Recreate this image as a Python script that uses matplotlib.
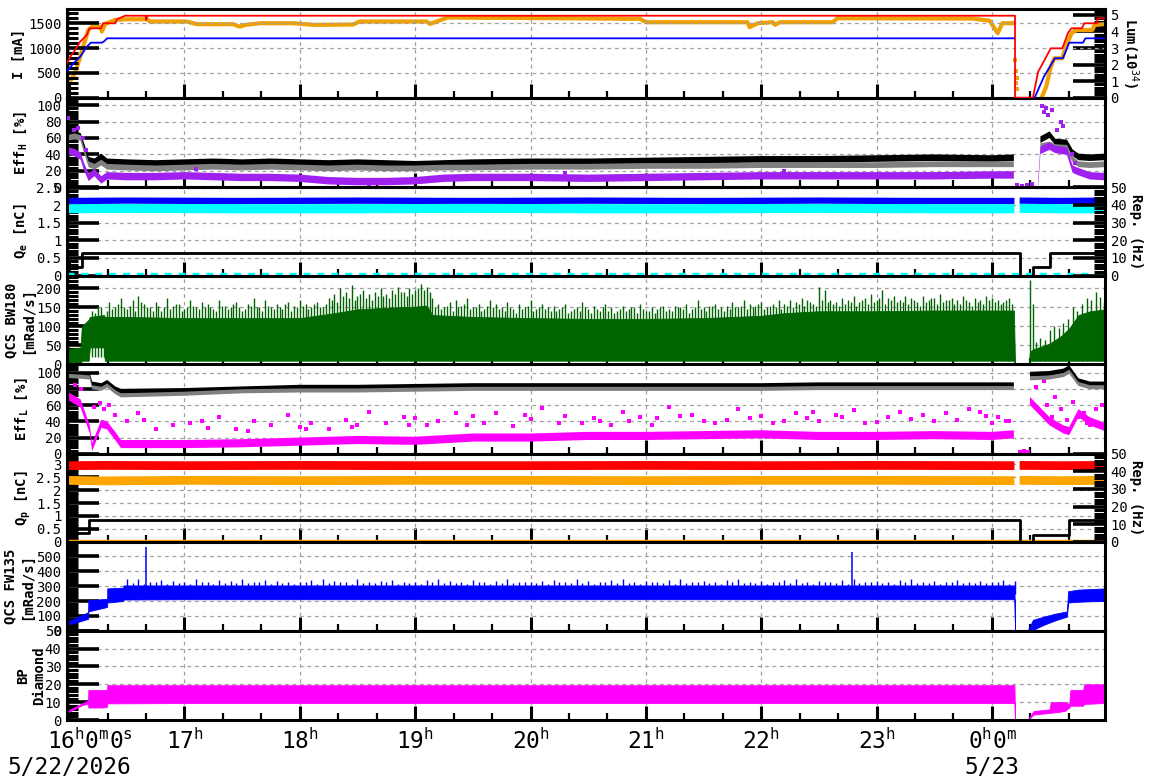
import numpy as np
import matplotlib
matplotlib.use("Agg")
import matplotlib.pyplot as plt
from matplotlib.ticker import MultipleLocator, AutoMinorLocator, FormatStrFormatter
import matplotlib.transforms as mtransforms

plt.rcParams['font.family'] = ['DejaVu Sans Mono']
plt.rcParams['mathtext.fontset'] = 'custom'
plt.rcParams['mathtext.rm'] = 'DejaVu Sans Mono'
plt.rcParams['mathtext.it'] = 'DejaVu Sans Mono'
plt.rcParams['mathtext.bf'] = 'DejaVu Sans Mono:bold'

NaN = np.nan
# time axis: hours after 16:00 on 5/22/2026
hour_ticks = [0, 1, 2, 3, 4, 5, 6, 7, 8]
hour_labels = ["16$^{h}$0$^{m}$0$^{s}$", "17$^{h}$", "18$^{h}$", "19$^{h}$", "20$^{h}$",
               "21$^{h}$", "22$^{h}$", "23$^{h}$", "0$^{h}$0$^{m}$"]
date_labels = ["5/22/2026", "5/23"]
date_pos = [0, 8]

# ---- Panel 1: beam currents [mA] and luminosity [1e34]
red_t = [-0.02, 0.01, 0.053, 0.096, 0.154, 0.177, 0.276, 0.295, 0.40, 0.414, 0.486, 0.664, 0.668, 0.677,
         8.20, 8.20, 8.355, 8.40, 8.51, 8.61, 8.66, 8.69, 8.78, 8.80, 8.91, 8.915, 8.98]
red_v = [693, 826, 962, 1129, 1264, 1399, 1399, 1500, 1500, 1580, 1653, 1653, 1566, 1653,
         1653, 0, 0, 520, 995, 995, 1310, 1400, 1400, 1500, 1500, 1600, 1600]
blue_t = [-0.02, 0.038, 0.096, 0.154, 0.189, 0.27, 0.284, 0.30, 0.33, 8.19, 8.20,
          8.37, 8.45, 8.545, 8.615, 8.67, 8.79, 8.81, 8.98]
blue_v = [524, 693, 826, 1028, 1109, 1109, 1109, 1129, 1197, 1197, NaN,
          0, 420, 795, 795, 1109, 1109, 1197, 1197]
lum_t = [-0.02, 0.01, 0.053, 0.096, 0.14, 0.166, 0.2, 0.27, 0.284, 0.313, 0.4, 0.5, 0.677, 0.70,
         1.02, 1.11, 1.42, 1.48, 1.53, 1.66, 1.94, 2.12, 2.46, 2.52, 3.10, 3.13, 3.28, 4.26,
         4.95, 5.0, 5.88, 5.9, 5.97, 6.1, 6.12, 6.16, 6.62, 6.66, 7.83, 7.98, 8.05, 8.09, 8.18,
         8.20, 8.43, 8.47, 8.51, 8.54, 8.61, 8.64, 8.69, 8.73, 8.87, 8.89, 8.98]
lum_v = [0.87, 1.0, 1.49, 2.48, 3.49, 4.09, 4.29, 4.29, 4.0, 4.46, 4.7, 4.74, 4.74, 4.6,
         4.6, 4.44, 4.44, 4.29, 4.4, 4.5, 4.5, 4.4, 4.42, 4.6, 4.6, 4.46, 4.84, 4.8,
         4.76, 4.56, 4.56, 4.26, 4.5, 4.56, 4.4, 4.56, 4.56, 4.8, 4.78, 4.65, 3.9, 4.5, 4.5,
         NaN, 0.0, 0.66, 1.87, 2.38, 2.38, 3.08, 3.89, 4.09, 4.09, 4.39, 4.45]
lum_dot_t = [8.20, 8.205, 8.21, 8.215, 8.22]
lum_dot_v = [2.3, 1.6, 0.9, 1.2, 0.5]

# ---- Panel 2: EffH [%] (band centres)
effh_t = [-0.02, 0.05, 0.10, 0.13, 0.17, 0.22, 0.28, 0.33, 0.5, 0.75, 1.0, 1.25, 1.5, 1.75, 2.0,
          2.25, 2.5, 2.75, 3.0, 3.25, 3.5, 4.0, 4.5, 5.0, 5.5, 6.0, 6.5, 7.0, 7.5, 8.0, 8.19,
          8.2, 8.40, 8.42, 8.5, 8.55, 8.65, 8.7, 8.75, 8.85, 8.98]
effh_black = [62, 64, 62, 50, 33, 31, 37, 31, 30, 29, 30, 31, 30, 31, 30,
              29, 30, 29, 28, 29, 30, 31, 31, 32, 33, 34, 34, 35, 36, 35, 36,
              NaN, NaN, 58, 64, 55, 54, 42, 37, 36, 37]
effh_gray = [60, 62, 60, 45, 28, 25, 30, 25, 24, 23, 24, 25, 24, 25, 24,
             23, 24, 23, 23, 24, 24, 25, 25, 26, 26, 27, 27, 27, 28, 28, 28,
             NaN, NaN, 50, 52, 49, 48, 34, 28, 27, 28]
effh_purple = [45, 42, 38, 25, 12, 18, 9, 14, 13, 13, 14, 13, 12, 12, 11,
               8, 7, 7, 8, 11, 12, 12, 11, 12, 13, 14, 14, 14, 14, 15, 15,
               NaN, 3, 45, 50, 46, 44, 22, 19, 14, 13]
effh_out_t = [-0.01, 0.04, 0.08, 0.12, 0.15, 1.1, 2.6, 4.3, 6.2, 8.22, 8.26, 8.3, 8.35, 8.43,
              8.45, 8.47, 8.49, 8.52, 8.56, 8.6, 8.62, 8.69, 8.72]
effh_out_v = [84, 70, 72, 60, 45, 22, 3, 18, 20, 3, 2, 3, 4, 99,
              92, 96, 88, 94, 70, 80, 75, 40, 30]

# ---- Panel 3: Qe [nC] and electron rep. rate [Hz]
qe_t = [-0.02, 0.5, 1.5, 2.5, 3.5, 4.5, 5.5, 6.5, 7.5, 8.195, 8.20, 8.24, 8.6, 8.98]
qe_blue = [2.12, 2.13, 2.12, 2.13, 2.12, 2.13, 2.12, 2.13, 2.12, 2.12, NaN, 2.13, 2.12, 2.13]
qe_cyan = [1.90, 1.91, 1.90, 1.90, 1.91, 1.90, 1.90, 1.91, 1.90, 1.90, NaN, 1.91, 1.90, 1.90]
qe_rep_t = [-0.02, 0.11, 8.24, 8.36, 8.50, 8.98]
qe_rep_v = [5, 12.5, 0, 5, 12.5, 12.5]

# ---- Panel 4: QCS BW180 [mRad/s]
bw_t = [-0.02, 0.10, 0.11, 0.17, 0.18, 0.30, 0.31, 0.5, 1.0, 1.5, 2.0, 2.3, 2.5, 2.8, 3.0, 3.1,
        3.15, 3.5, 4.0, 4.5, 5.0, 5.5, 6.0, 6.2, 6.5, 7.0, 7.5, 8.0, 8.19, 8.20, 8.32, 8.33,
        8.36, 8.5, 8.6, 8.67, 8.75, 8.85, 8.98]
bw_top = [40, 45, 100, 118, 125, 130, 125, 125, 122, 122, 122, 135, 145, 150, 152, 155,
          130, 125, 122, 120, 120, 122, 128, 135, 140, 140, 142, 142, 142, 0, 0, 35,
          40, 55, 75, 95, 130, 140, 145]
bw_low = [0, 0, 10, 10, 45, 45, 10, 10, 10, 10, 10, 10, 10, 10, 10, 10,
          10, 10, 10, 10, 10, 10, 10, 10, 10, 10, 10, 10, 10, 0, 0, 10,
          10, 10, 10, 10, 10, 10, 10]
bw_spk_v = [140, 155, 130, 165, 150, 175, 145, 170, 180, 160,
            150, 165, 140, 175, 155, 160, 145, 170, 150, 165,
            160, 145, 170, 155, 150, 165, 140, 160, 175, 150,
            170, 150, 160, 145, 165, 155, 170, 160, 150, 165,
            150, 175, 185, 200, 190, 210, 180, 195, 185, 190,
            200, 185, 195, 205, 190, 200, 195, 212, 205, 175,
            160, 150, 165, 170, 155, 175, 150, 160, 145, 170,
            160, 150, 165, 145, 160, 150, 170, 145, 160, 150,
            155, 145, 160, 140, 150, 165, 145, 155, 140, 160,
            150, 140, 155, 145, 150, 160, 140, 150, 145, 155,
            145, 155, 150, 160, 145, 170, 150, 155, 160, 150,
            155, 165, 150, 170, 160, 155, 165, 150, 160, 170,
            160, 170, 165, 175, 170, 160, 205, 195, 170, 165,
            175, 170, 180, 165, 175, 185, 170, 195, 175, 180,
            170, 180, 175, 165, 180, 170, 175, 185, 170, 175,
            170, 180, 165, 175, 170, 180, 175, 170, 165, 175]
bw_spk_t = 0.20 + 0.05 * np.arange(len(bw_spk_v))
bw_spk2_v = [135, 150, 140, 145, 160, 150, 155, 140, 165, 150,
             140, 155, 150, 145, 160, 140, 150, 155, 145, 150,
             150, 140, 155, 145, 160, 150, 145, 155, 150, 140,
             155, 145, 150, 160, 140, 150, 155, 145, 160, 150,
             160, 170, 165, 180, 175, 170, 185, 175, 170, 180,
             180, 175, 185, 190, 180, 185, 200, 195, 190, 150,
             145, 155, 140, 150, 160, 145, 150, 140, 155, 150,
             145, 140, 150, 135, 145, 155, 140, 150, 145, 140,
             140, 150, 135, 145, 140, 150, 135, 145, 150, 140,
             135, 145, 140, 150, 135, 145, 140, 135, 150, 140,
             140, 150, 145, 135, 150, 145, 140, 155, 145, 140,
             145, 150, 155, 145, 150, 160, 145, 155, 150, 145,
             155, 150, 160, 155, 165, 155, 170, 165, 160, 155,
             160, 165, 155, 170, 160, 165, 175, 160, 170, 165,
             165, 160, 170, 155, 165, 175, 160, 165, 170, 160,
             160, 170, 155, 165, 160, 170, 165, 160, 170, 160]
bw_spk2_t = 0.225 + 0.05 * np.arange(len(bw_spk2_v))
bw_post_t = [8.33, 8.36, 8.38, 8.42, 8.46, 8.50, 8.54, 8.58, 8.62, 8.66, 8.70, 8.74, 8.78, 8.82,
             8.86, 8.90, 8.94, 8.97]
bw_post_v = [222, 160, 60, 70, 65, 90, 100, 95, 110, 120, 150, 140, 160, 174, 170, 191, 178, 165]

# ---- Panel 5: EffL [%]
effl_t = [-0.02, 0.1, 0.18, 0.2, 0.28, 0.33, 0.4, 0.45, 1.0, 1.5, 2.0, 2.5, 3.0, 3.5, 4.0, 4.5,
          5.0, 5.5, 6.0, 6.5, 7.0, 7.5, 8.0, 8.19, 8.2, 8.33, 8.5, 8.62, 8.67, 8.75, 8.85, 8.98]
effl_black = [98, 97, 96, 86, 84, 88, 80, 77, 78, 80, 82, 82, 83, 84, 84, 84,
              84, 84, 84, 85, 85, 85, 85, 85, NaN, 98, 99, 102, 106, 90, 86, 86]
effl_gray = [96, 95, 94, 82, 80, 84, 76, 72, 74, 77, 78, 78, 79, 80, 80, 80,
             80, 80, 80, 81, 81, 81, 81, 81, NaN, 93, 94, 97, 101, 86, 82, 82]
effl_mag = [72, 62, 30, 8, 37, 35, 22, 12, 12, 13, 15, 17, 16, 20, 20, 22,
            22, 23, 24, 22, 22, 23, 22, 24, NaN, 65, 40, 30, 28, 50, 40, 33]
effl_out_t = [0.05, 0.1, 0.3, 0.35, 0.4, 0.5, 0.6, 0.75, 0.9, 1.05, 1.2, 1.3, 1.45, 1.6, 1.75,
              1.9, 2.0, 2.1, 2.25, 2.4, 2.5, 2.6, 2.75, 2.9, 3.0, 3.1, 3.2, 3.35, 3.5, 3.6,
              3.7, 3.85, 4.0, 4.1, 4.3, 4.45, 4.6, 4.7, 4.8, 4.95, 5.1, 5.2, 5.4, 5.5, 5.7,
              5.8, 6.0, 6.1, 6.3, 6.4, 6.5, 6.65, 6.8, 6.9, 7.1, 7.2, 7.4, 7.5, 7.7, 7.8,
              7.9, 8.0, 8.05, 8.12, 8.45, 8.48, 8.55, 8.6, 8.7, 8.75, 8.8, 8.85, 8.9, 8.95,
              0.22, 0.27, 0.65, 1.15, 1.55, 2.05, 2.45, 2.95, 3.45, 3.95, 4.25, 4.55, 4.85,
              5.05, 5.3, 5.6, 5.9, 6.2, 6.45, 6.7, 7.0, 7.3, 7.6, 7.95, 8.15, 8.38, 8.42,
              8.52, 8.65, 8.82, 8.24, 8.28, 8.31]
effl_out_v = [85, 80, 55, 60, 48, 40, 50, 30, 35, 38, 32, 45, 30, 40, 36,
              48, 33, 38, 30, 42, 35, 52, 38, 45, 44, 36, 40, 50, 46, 38,
              50, 34, 43, 56, 47, 38, 41, 36, 52, 45, 44, 58, 48, 40, 42,
              55, 46, 38, 50, 44, 40, 48, 54, 38, 45, 52, 48, 40, 42, 55,
              51, 38, 45, 40, 90, 60, 70, 55, 64, 45, 50, 35, 55, 60,
              58, 62, 42, 40, 28, 31, 33, 35, 36, 48, 38, 44, 40,
              36, 46, 38, 44, 41, 52, 45, 39, 43, 50, 46, 41, 82, 94,
              45, 42, 38, 2, 3, 2]

# ---- Panel 6: Qp [nC] and positron rep. rate [Hz]
qp_t = [-0.02, 0.3, 1.0, 2.0, 3.0, 4.0, 5.0, 6.0, 7.0, 8.195, 8.20, 8.24, 8.6, 8.98]
qp_red = [2.95, 2.96, 2.95, 2.96, 2.95, 2.95, 2.96, 2.95, 2.96, 2.95, NaN, 2.96, 2.95, 2.96]
qp_orange = [2.38, 2.36, 2.38, 2.37, 2.38, 2.38, 2.37, 2.38, 2.38, 2.37, NaN, 2.38, 2.37, 2.38]
qp_rep_t = [-0.02, 0.174, 8.24, 8.36, 8.67, 8.98]
qp_rep_v = [5, 12.5, 0, 4, 12.5, 12.5]

# ---- Panel 7: QCS FW135 [mRad/s]
fw_t = [-0.02, 0.08, 0.165, 0.167, 0.33, 0.331, 0.47, 0.471, 1.0, 2.0, 3.0, 4.0, 5.0, 6.0,
        7.0, 8.0, 8.195, 8.20, 8.31, 8.355, 8.45, 8.55, 8.65, 8.66, 8.75, 8.85, 8.98]
fw_lo = [40, 60, 80, 130, 160, 190, 200, 210, 212, 212, 212, 212, 212, 212,
         212, 212, 212, 0, 0, 5, 40, 70, 95, 190, 195, 198, 200]
fw_hi = [60, 95, 125, 205, 215, 285, 290, 305, 305, 305, 305, 305, 305, 305,
         305, 305, 305, 0, 0, 73, 95, 115, 130, 266, 277, 280, 285]
fw_spk_v = [345, 320, 350, 315, 330, 325, 340, 318, 335, 322,
            330, 315, 345, 325, 330, 318, 340, 322, 335, 320,
            345, 320, 330, 325, 340, 318, 335, 322, 330, 315,
            330, 325, 340, 318, 345, 320, 335, 325, 330, 318,
            345, 322, 330, 320, 335, 325, 340, 318, 330, 322,
            330, 318, 340, 325, 345, 320, 335, 322, 330, 315,
            340, 325, 330, 318, 335, 320, 345, 322, 330, 325,
            330, 320, 335, 318, 340, 325, 330, 322, 345, 320,
            335, 318, 330, 325, 340, 320, 345, 322, 330, 318,
            335, 325, 330, 320, 340, 318, 345, 322, 330, 325,
            335, 320, 330, 318, 340, 325, 345, 322, 330, 320,
            335, 318, 330, 325, 340, 320, 345, 322, 330, 318,
            335, 325, 330, 320, 340, 318, 345, 322, 330, 325,
            335, 320, 330, 318, 340, 325, 345, 322, 330, 320,
            335, 318, 330, 325, 340, 320, 330, 322, 335, 320,
            330, 325, 340, 318, 335]
fw_spk_t = 0.5 + 0.05 * np.arange(len(fw_spk_v))
fw_big_t = [0.668, 6.79]
fw_big_v = [564, 530]

# ---- Panel 8: BP Diamond
bp_t = [-0.02, 0.12, 0.165, 0.167, 0.30, 0.33, 0.331, 1.0, 2.0, 3.0, 4.0, 5.0, 6.0, 7.0, 8.0,
        8.195, 8.20, 8.31, 8.36, 8.50, 8.51, 8.63, 8.67, 8.68, 8.79, 8.80, 8.98]
bp_lo = [4, 8.5, 9, 7, 7, 7.5, 9.3, 9.5, 9.5, 9.5, 9.5, 9.5, 9.5, 9.5, 9.5,
         9.5, 0, 0, 3, 4, 4, 5, 7, 8, 8, 9, 9.5]
bp_hi = [5, 9.5, 11, 16.8, 16.8, 17, 19.5, 19.5, 19.5, 19.5, 19.5, 19.5, 19.5, 19.5, 19.5,
         19.5, 0, 0, 5, 6, 10, 10, 9, 16.8, 16.8, 20, 20]

# ================= figure =================
W, H = 1172, 782
fig = plt.figure(figsize=(W / 100, H / 100), dpi=100)
edges = [9.3, 97.7, 187.3, 275.5, 364.5, 453.8, 541.8, 630.7, 720.0]
L, R = 67, 1105
axes = []
for i in range(8):
    top, bot = edges[i], edges[i + 1]
    ax = fig.add_axes([L / W, 1 - bot / H, (R - L) / W, (bot - top) / H])
    axes.append(ax)

GRID = dict(color='#a0a0a0', linestyle=(0, (3, 3)), linewidth=0.9)
FS = 10


def style(ax, ylim, major, nminor, show_x=False):
    ax.set_xlim(-0.018, 8.98)
    ax.set_ylim(*ylim)
    ax.yaxis.set_major_locator(MultipleLocator(major))
    ax.yaxis.set_minor_locator(AutoMinorLocator(nminor))
    ax.yaxis.set_major_formatter(FormatStrFormatter('%g'))
    ax.xaxis.set_major_locator(MultipleLocator(1))
    ax.xaxis.set_minor_locator(MultipleLocator(1 / 3))
    ax.tick_params(axis='y', which='major', direction='in', length=23, width=2.6,
                   labelsize=FS, pad=4, right=False)
    ax.tick_params(axis='y', which='minor', direction='in', length=8, width=2.2, right=False)
    ax.tick_params(axis='x', which='major', direction='in', length=10, width=2.2, top=False,
                   labelbottom=show_x)
    ax.tick_params(axis='x', which='minor', direction='in', length=5, width=1.6, top=False)
    for s in ax.spines.values():
        s.set_linewidth(2.2)
    ax.grid(True, which='major', **GRID)
    ax.set_axisbelow(True)


def twin_style(ax2, ylim, major, nminor, label, xc):
    ax2.set_ylim(*ylim)
    ax2.yaxis.set_major_locator(MultipleLocator(major))
    ax2.yaxis.set_minor_locator(AutoMinorLocator(nminor))
    ax2.yaxis.set_major_formatter(FormatStrFormatter('%g'))
    ax2.tick_params(axis='y', which='major', direction='in', length=23, width=2.6,
                    labelsize=FS, pad=4)
    ax2.tick_params(axis='y', which='minor', direction='in', length=8, width=2.2)
    ax2.set_ylabel(label, rotation=270, fontsize=FS, fontweight='bold', va='center')
    ax2.yaxis.set_label_coords((xc - L) / (R - L), 0.5)


def band(ax, t, c, half, color, z=2):
    c = np.array(c, dtype=float)
    ax.fill_between(t, c - half, c + half, color=color, lw=0, zorder=z)


def ylab(ax, text, xc):
    ax.set_ylabel(text, fontsize=FS, fontweight='bold', va='center', linespacing=1.25)
    ax.yaxis.set_label_coords((xc - L) / (R - L), 0.5)


# Panel 1
ax = axes[0]
style(ax, (0, 1782), 500, 5)
ax.plot(red_t, red_v, color='#ff0000', lw=1.3, zorder=4)
ax.plot(blue_t, blue_v, color='#0000ff', lw=1.3, zorder=4)
ax2 = ax.twinx()
twin_style(ax2, (0, 5.34), 1, 5, 'Lum(10$^{34}$)', 1130)
ax2.plot(lum_t, lum_v, color='#f0a000', lw=3.0, zorder=3)
ax2.scatter(lum_dot_t, lum_dot_v, s=6, color='#f0a000', marker='s', lw=0, zorder=3)
ax.set_zorder(ax2.get_zorder() + 1)
ax.patch.set_visible(False)
ylab(ax, 'I [mA]', 19)

# Panel 2
ax = axes[1]
style(ax, (0, 109), 20, 5)
band(ax, effh_t, effh_black, 4, '#000000')
band(ax, effh_t, effh_gray, 3.5, '#808080')
band(ax, effh_t, effh_purple, 4.5, '#a020f0')
ax.scatter(effh_out_t, effh_out_v, s=6, color='#a020f0', marker='s', lw=0, zorder=3)
ylab(ax, 'Eff$_\\mathbf{H}$ [%]', 21)

# Panel 3
ax = axes[2]
style(ax, (0, 2.51), 0.5, 5)
band(ax, qe_t, qe_blue, 0.09, '#0000ff')
band(ax, qe_t, qe_cyan, 0.13, '#00ffff')
ax.plot([-0.02, 8.98], [0.04, 0.04], color='#00ffff', lw=2.5, ls=(0, (2, 2)), zorder=2)
ax2 = ax.twinx()
twin_style(ax2, (0, 50), 10, 5, 'Rep. (Hz)', 1136)
ax2.step(qe_rep_t, qe_rep_v, where='post', color='black', lw=2.0)
ylab(ax, 'Q$_\\mathbf{e}$ [nC]', 21)

# Panel 4
ax = axes[3]
style(ax, (0, 234), 50, 5)
ax.fill_between(bw_t, bw_low, bw_top, color='#006400', lw=0.6, edgecolor='#006400')
ax.vlines(bw_spk_t, 20, bw_spk_v, color='#006400', lw=1.0)
ax.vlines(bw_spk2_t, 20, bw_spk2_v, color='#006400', lw=1.0)
ax.vlines(bw_post_t, 10, bw_post_v, color='#006400', lw=1.0)
ylab(ax, 'QCS BW180\n[mRad/s]', 20)

# Panel 5
ax = axes[4]
style(ax, (0, 110), 20, 5)
band(ax, effl_t, effl_black, 3, '#000000')
band(ax, effl_t, effl_gray, 2.5, '#808080')
band(ax, effl_t, effl_mag, 5, '#ff00ff')
ax.scatter(effl_out_t, effl_out_v, s=6, color='#ff00ff', marker='s', lw=0)
ylab(ax, 'Eff$_\\mathbf{L}$ [%]', 22)

# Panel 6
ax = axes[5]
style(ax, (0, 3.41), 0.5, 5)
band(ax, qp_t, qp_red, 0.17, '#ff0000')
band(ax, qp_t, qp_orange, 0.17, '#ffa500')
ax.plot([-0.02, 8.98], [0.03, 0.03], color='#ffa500', lw=2.5, zorder=2)
ax2 = ax.twinx()
twin_style(ax2, (0, 50), 10, 5, 'Rep. (Hz)', 1136)
ax2.step(qp_rep_t, qp_rep_v, where='post', color='black', lw=2.0)
ylab(ax, 'Q$_\\mathbf{p}$ [nC]', 23)

# Panel 7
ax = axes[6]
style(ax, (0, 599), 100, 5)
ax.fill_between(fw_t, fw_lo, fw_hi, color='#0000ff', lw=0.6, edgecolor='#0000ff')
ax.vlines(fw_spk_t, 250, fw_spk_v, color='#0000ff', lw=1.0)
ax.vlines(fw_big_t, 250, fw_big_v, color='#0000ff', lw=1.1)
ylab(ax, 'QCS FW135\n[mRad/s]', 19)

# Panel 8
ax = axes[7]
style(ax, (0, 50), 10, 5, show_x=True)
ax.fill_between(bp_t, bp_lo, bp_hi, color='#ff00ff', lw=0.6, edgecolor='#ff00ff')
ylab(ax, 'BP\nDiamond', 31)
ax.set_xticks(hour_ticks)
ax.set_xticklabels(hour_labels, fontsize=16.4)
ax.tick_params(axis='x', which='major', pad=6)
lbls = ax.get_xticklabels()
off = mtransforms.ScaledTranslation(21 / 100, 0, fig.dpi_scale_trans)
lbls[0].set_transform(lbls[0].get_transform() + off)
trans = mtransforms.blended_transform_factory(ax.transData, fig.transFigure)
for p, d in zip(date_pos, date_labels):
    ax.text(p, 1 - 768 / H, d, transform=trans, ha='center', va='center', fontsize=16.4)

fig.savefig('out.png', dpi=100)
